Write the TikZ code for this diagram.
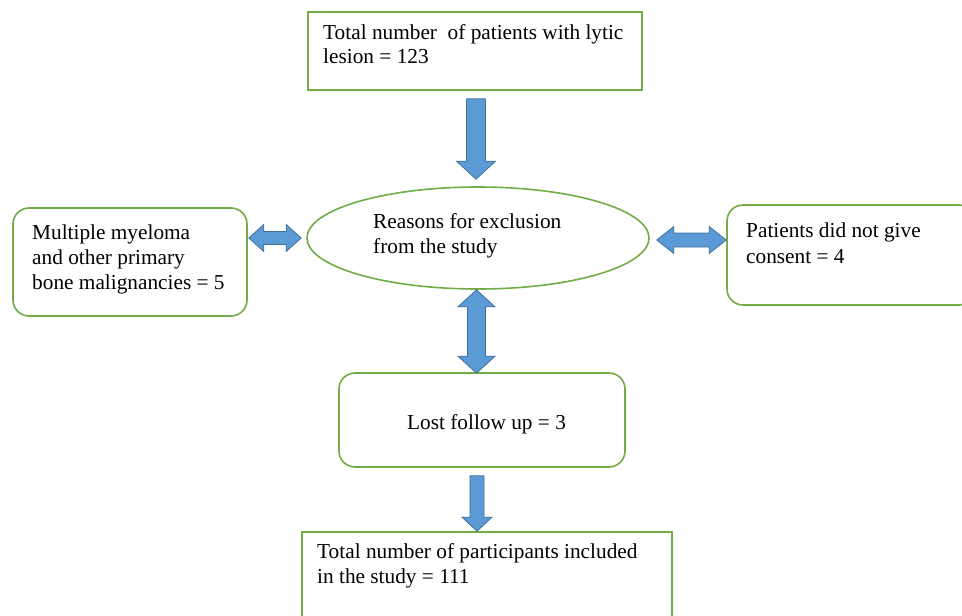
\documentclass[tikz,border=0pt]{standalone}
\usepackage{fontspec}
\setmainfont{Liberation Serif}
\usetikzlibrary{shapes.geometric,calc}
\definecolor{boxgreen}{HTML}{70AD47}
\definecolor{arrfill}{HTML}{5B9BD5}
\definecolor{arrline}{HTML}{41719C}
\tikzset{
  sqbox/.style={draw=boxgreen, line width=1.6pt, fill=white, inner sep=0pt, rectangle},
  rbox/.style={sqbox, rounded corners=16pt},
  ellbox/.style={draw=boxgreen, line width=1.6pt, fill=white, inner sep=0pt, ellipse},
  txt/.style={anchor=base west, inner sep=0pt, font=\fontsize{21.3}{24}\selectfont},
  blk/.style={fill=arrfill, draw=arrline, line width=0.8pt, line join=miter}
}
% vertical single arrow: start, end, shaft half, head half, head length
\newcommand\blkdown[5]{%
  \draw[blk] ($(#1)+(-#3,0)$) -- ($(#1)+(#3,0)$) -- ($(#2)+(#3,-#5)$) -- ($(#2)+(#4,-#5)$)
    -- (#2) -- ($(#2)+(-#4,-#5)$) -- ($(#2)+(-#3,-#5)$) -- cycle;}
% vertical double arrow
\newcommand\blkvdbl[5]{%
  \draw[blk] (#1) -- ($(#1)+(#4,#5)$) -- ($(#1)+(#3,#5)$) -- ($(#2)+(#3,-#5)$) -- ($(#2)+(#4,-#5)$)
    -- (#2) -- ($(#2)+(-#4,-#5)$) -- ($(#2)+(-#3,-#5)$) -- ($(#1)+(-#3,#5)$) -- ($(#1)+(-#4,#5)$) -- cycle;}
% horizontal double arrow
\newcommand\blkhdbl[5]{%
  \draw[blk] (#1) -- ($(#1)+(#5,-#4)$) -- ($(#1)+(#5,-#3)$) -- ($(#2)+(-#5,-#3)$) -- ($(#2)+(-#5,-#4)$)
    -- (#2) -- ($(#2)+(-#5,#4)$) -- ($(#2)+(-#5,#3)$) -- ($(#1)+(#5,#3)$) -- ($(#1)+(#5,#4)$) -- cycle;}
\begin{document}
\begin{tikzpicture}[x=1pt,y=-1pt]
\useasboundingbox[fill=white] (0,0) rectangle (962,616);

% shapes
\node[sqbox, minimum width=334pt, minimum height=78pt] (top) at (475,51) {};
\node[ellbox, minimum width=342pt, minimum height=102pt] (ell) at (478,238) {};
\node[rbox, minimum width=234pt, minimum height=108pt] (lbox) at (130,262) {};
\node[rbox, minimum width=248pt, minimum height=100pt] (rbox) at (851,255) {};
\node[rbox, minimum width=286pt, minimum height=94pt] (mid) at (482,420) {};
\node[sqbox, minimum width=370pt, minimum height=98pt] (bot) at (487,581) {};

% texts
\node[txt] (t1) at (323,39) {Total number\ \ of patients with lytic};
\node[txt] (t2) at (323,63) {lesion = 123};
\node[txt] (e1) at (373,228) {Reasons for exclusion};
\node[txt] (e2) at (373,253) {from the study};
\node[txt] (l1) at (32,239) {Multiple myeloma};
\node[txt] (l2) at (32,264) {and other primary};
\node[txt] (l3) at (32,289) {bone malignancies = 5};
\node[txt] (r1) at (746,237) {Patients did not give};
\node[txt] (r2) at (746,263) {consent = 4};
\node[txt] (m1) at (407,429) {Lost follow up = 3};
\node[txt] (b1) at (317,558) {Total number of participants included};
\node[txt] (b2) at (317,583) {in the study = 111};

% connector end points
\coordinate (a1s) at ($(top.south)+(1,8)$);
\coordinate (a1e) at ($(ell.north)+(-2,-7)$);
\coordinate (a2s) at ($(lbox.east |- ell.west)+(1,0)$);
\coordinate (a2e) at ($(ell.west)+(-5,0)$);
\coordinate (a3s) at ($(ell.east)+(7,2)$);
\coordinate (a3e) at (rbox.west |- a3s);
\coordinate (a4s) at ($(ell.south)+(-1.5,0)$);
\coordinate (a4e) at ($(a4s |- mid.north)+(0,1)$);
\coordinate (a5s) at ($(mid.south)+(-5,8)$);
\coordinate (a5e) at (a5s |- bot.north);

% block arrows
\blkdown{a1s}{a1e}{9.5}{19.5}{18}
\blkhdbl{a2s}{a2e}{6.5}{13.5}{15}
\blkhdbl{a3s}{a3e}{7}{13.5}{17}
\blkvdbl{a4s}{a4e}{9}{18.5}{17}
\blkdown{a5s}{a5e}{7}{15}{14}
\end{tikzpicture}
\end{document}
